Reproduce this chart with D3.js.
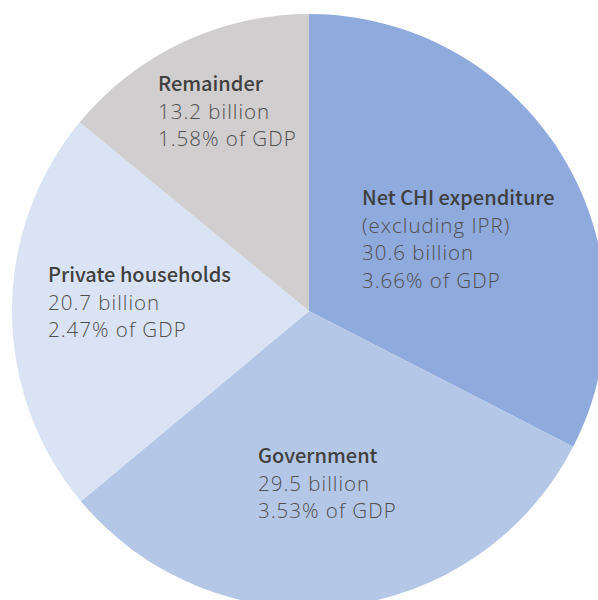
<!DOCTYPE html>
<html>
<head>
<meta charset="utf-8">
<script src="https://cdn.jsdelivr.net/npm/d3@7"></script>
<style>
  html, body { margin: 0; padding: 0; background: #ffffff; }
  svg { display: block; }
</style>
</head>
<body>
<svg id="chart" width="598" height="600"></svg>
<script>
// Components of health expenditure (billions)
const categories = ["Net CHI expenditure", "Government", "Private households", "Remainder"];
const subtitles  = ["(excluding IPR)", null, null, null];
const values     = [30.6, 29.5, 20.7, 13.2];
const gdpShares  = ["3.66%", "3.53%", "2.47%", "1.58%"];
const colors     = ["#8faadc", "#b4c7e7", "#dae3f3", "#d0cece"];

const width = 598, height = 600;
const cx = 309, cy = 311, radius = 297;

// Left edge / first baseline of each text block
const labelAnchors = [
  { x: 362, y: 205 },
  { x: 258, y: 463 },
  { x: 48,  y: 282 },
  { x: 158, y: 91 }
];
const lineHeight = 27.7;

const svg = d3.select("#chart");
const g = svg.append("g").attr("transform", `translate(${cx},${cy})`);

const pie = d3.pie().sort(null).value(d => d)(values);
const arc = d3.arc().innerRadius(0).outerRadius(radius);

g.selectAll("path.slice")
  .data(pie)
  .join("path")
  .attr("class", "slice")
  .attr("d", arc)
  .attr("fill", (d, i) => colors[i]);

const labels = svg.append("g");

categories.forEach((name, i) => {
  const lines = [{ text: name, bold: true }];
  if (subtitles[i]) lines.push({ text: subtitles[i] });
  lines.push({ text: `${values[i].toFixed(1)} billion` });
  lines.push({ text: `${gdpShares[i]} of GDP` });

  const t = labels.append("text")
    .attr("x", labelAnchors[i].x)
    .attr("y", labelAnchors[i].y);
  lines.forEach((ln, k) => {
    t.append("tspan")
      .attr("x", labelAnchors[i].x)
      .attr("dy", k === 0 ? 0 : lineHeight)
      .attr("fill", ln.bold ? "#404040" : "#4f4f4f")
      .attr("font-family", ln.bold ? "'Noto Sans CJK KR', sans-serif" : "'Open Sans', sans-serif")
      .attr("font-size", ln.bold ? 20 : 20.5)
      .attr("letter-spacing", ln.bold ? 0 : 1)
      .attr("font-weight", ln.bold ? 500 : 300)
      .text(ln.text);
  });
});
</script>
</body>
</html>
